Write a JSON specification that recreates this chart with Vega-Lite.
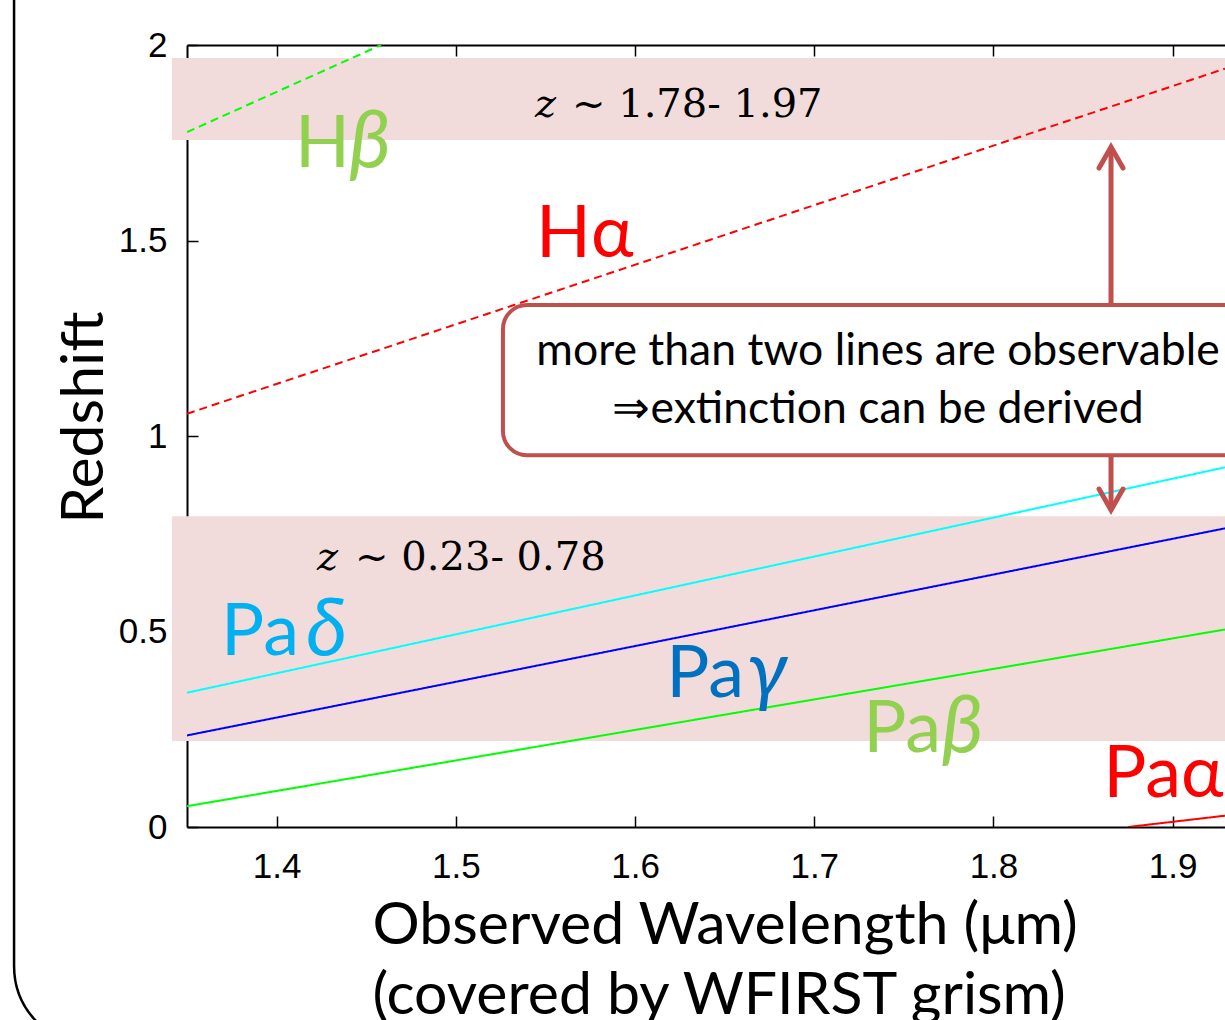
{
  "$schema": "https://vega.github.io/schema/vega-lite/v6.json",
  "width": 1038,
  "height": 782,
  "autosize": {"type": "none"},
  "padding": {"left": 187, "top": 45, "right": 0, "bottom": 193},
  "background": "white",
  "config": {
    "view": {"stroke": null},
    "axis": {
      "domainColor": "#000000",
      "domainWidth": 2,
      "tickColor": "#000000",
      "tickWidth": 1.5,
      "tickSize": -11,
      "labelFont": "Liberation Sans",
      "labelFontSize": 35,
      "labelColor": "#000000",
      "grid": false,
      "labelFlush": false,
      "labelOverlap": false,
      "zindex": 1
    }
  },
  "datasets": {
    "frame": [{"x1": 1.2535, "x2": 2.0, "y1": -0.56, "y2": 2.5}],
    "bands": [
      {"range": "high", "x1": 1.3416, "x2": 2.0, "z1": 1.757, "z2": 1.967},
      {"range": "low", "x1": 1.3416, "x2": 2.0, "z1": 0.22, "z2": 0.795}
    ],
    "lines": [
      {"name": "Hβ", "series": "Balmer", "wl": 1.35, "z": 1.7772},
      {"name": "Hβ", "series": "Balmer", "wl": 1.4583, "z": 2.0},
      {"name": "Hα", "series": "Balmer", "wl": 1.35, "z": 1.057},
      {"name": "Hα", "series": "Balmer", "wl": 1.9292, "z": 1.9395},
      {"name": "Paδ", "series": "Paschen", "wl": 1.35, "z": 0.3434},
      {"name": "Paδ", "series": "Paschen", "wl": 1.9292, "z": 0.9198},
      {"name": "Paγ", "series": "Paschen", "wl": 1.35, "z": 0.2342},
      {"name": "Paγ", "series": "Paschen", "wl": 1.9292, "z": 0.7638},
      {"name": "Paβ", "series": "Paschen", "wl": 1.35, "z": 0.0532},
      {"name": "Paβ", "series": "Paschen", "wl": 1.9292, "z": 0.5051},
      {"name": "Paα", "series": "Paschen", "wl": 1.8751, "z": 0.0},
      {"name": "Paα", "series": "Paschen", "wl": 1.9292, "z": 0.0289}
    ],
    "box": [{"x1": 1.5263, "x2": 2.0, "z1": 0.951, "z2": 1.335}],
    "arrows": [
      {"dir": "up", "wl": 1.8656, "z1": 1.335, "z2": 1.73, "tip": 1.7391},
      {"dir": "down", "wl": 1.8656, "z1": 0.951, "z2": 0.82, "tip": 0.8107}
    ],
    "labels": [
      {"name": "Hβ", "base": "H", "greek": "β", "wl": 1.4103, "gwl": 1.4405, "z": 1.688},
      {"name": "Hα", "base": "Hα", "greek": "", "wl": 1.5448, "gwl": 1.6, "z": 1.4578},
      {"name": "Paδ", "base": "Pa", "greek": "δ", "wl": 1.369, "gwl": 1.4165, "z": 0.4399},
      {"name": "Paγ", "base": "Pa", "greek": "γ", "wl": 1.6174, "gwl": 1.6625, "z": 0.3325},
      {"name": "Paβ", "base": "Pa", "greek": "β", "wl": 1.7273, "gwl": 1.7712, "z": 0.1918},
      {"name": "Paα", "base": "Paα", "greek": "", "wl": 1.8612, "gwl": 1.95, "z": 0.0767}
    ],
    "zranges": [
      {"range": "high", "zx": 1.5442, "rx": 1.5648, "z": 1.8159, "text": "~ 1.78- 1.97"},
      {"range": "low", "zx": 1.4225, "rx": 1.4438, "z": 0.6573, "text": "~ 0.23- 0.78"}
    ],
    "note": [{"wl": 1.7356, "z": 1.1816, "text": "more than two lines are observable\n⇒extinction can be derived"}]
  },
  "layer": [
    {
      "data": {"name": "frame"},
      "mark": {"type": "rect", "fill": "transparent", "stroke": "#000000", "strokeWidth": 2.5, "cornerRadius": 80, "clip": false},
      "encoding": {
        "x": {
          "field": "x1", "type": "quantitative",
          "scale": {"domain": [1.35, 1.9292], "nice": false, "zero": false},
          "axis": {"orient": "top", "labels": false, "title": null, "values": [1.4, 1.5, 1.6, 1.7, 1.8, 1.9]}
        },
        "x2": {"field": "x2"},
        "y": {
          "field": "y1", "type": "quantitative",
          "scale": {"domain": [0, 2], "nice": false, "zero": false},
          "axis": {
            "orient": "left",
            "values": [0, 0.5, 1, 1.5, 2],
            "format": "~g",
            "labelPadding": 31,
            "title": "Redshift",
            "titleX": -85,
            "titleY": 372,
            "titleAngle": -90,
            "titleAlign": "center",
            "titleBaseline": "alphabetic",
            "titleFont": "Lato",
            "titleFontSize": 59,
            "titleFontWeight": "normal",
            "titleColor": "#000000"
          }
        },
        "y2": {"field": "y2"}
      }
    },
    {
      "data": {"name": "bands"},
      "mark": {"type": "rect", "fill": "#f2dcdb", "clip": false},
      "encoding": {
        "x": {"field": "x1", "type": "quantitative", "axis": null},
        "x2": {"field": "x2"},
        "y": {"field": "z1", "type": "quantitative"},
        "y2": {"field": "z2"}
      }
    },
    {
      "data": {"name": "lines"},
      "mark": {"type": "line", "strokeWidth": 2, "clip": true},
      "encoding": {
        "x": {
          "field": "wl", "type": "quantitative",
          "axis": {
            "orient": "bottom",
            "values": [1.4, 1.5, 1.6, 1.7, 1.8, 1.9],
            "format": ".1f",
            "labelPadding": 33,
            "title": ["Observed Wavelength (μm)", "(covered by WFIRST grism)"],
            "titleX": 185,
            "titleY": 116,
            "titleAlign": "left",
            "titleBaseline": "alphabetic",
            "titleFont": "Lato",
            "titleFontSize": 59,
            "titleFontWeight": "normal",
            "titleLineHeight": 70,
            "titleColor": "#000000"
          }
        },
        "y": {"field": "z", "type": "quantitative"},
        "color": {
          "field": "name", "type": "nominal",
          "scale": {"domain": ["Hβ", "Hα", "Paδ", "Paγ", "Paβ", "Paα"], "range": ["#00ff00", "#ff0000", "#00ffff", "#0000ff", "#00ff00", "#ff0000"]},
          "legend": null
        },
        "strokeDash": {
          "field": "series", "type": "nominal",
          "scale": {"domain": ["Balmer", "Paschen"], "range": [[8, 5], [1, 0]]},
          "legend": null
        }
      }
    },
    {
      "data": {"name": "box"},
      "mark": {"type": "rect", "fill": "#ffffff", "stroke": "#c0504d", "strokeWidth": 4, "cornerRadius": 24, "clip": false},
      "encoding": {
        "x": {"field": "x1", "type": "quantitative", "axis": null},
        "x2": {"field": "x2"},
        "y": {"field": "z1", "type": "quantitative"},
        "y2": {"field": "z2"}
      }
    },
    {
      "data": {"name": "arrows"},
      "mark": {"type": "rule", "color": "#c0504d", "strokeWidth": 5, "clip": false},
      "encoding": {
        "x": {"field": "wl", "type": "quantitative", "axis": null},
        "y": {"field": "z1", "type": "quantitative"},
        "y2": {"field": "z2"}
      }
    },
    {
      "data": {"name": "arrows"},
      "mark": {"type": "point", "filled": false, "color": "#c0504d", "strokeWidth": 5, "size": 1764, "opacity": 1, "strokeCap": "round", "strokeJoin": "miter", "clip": false},
      "encoding": {
        "x": {"field": "wl", "type": "quantitative", "axis": null},
        "y": {"field": "tip", "type": "quantitative"},
        "shape": {
          "field": "dir", "type": "nominal",
          "scale": {"domain": ["up", "down"], "range": ["M-0.57,1L0,0L0.57,1", "M-0.57,-1L0,0L0.57,-1"]},
          "legend": null
        }
      }
    },
    {
      "data": {"name": "labels"},
      "mark": {"type": "text", "font": "Lato", "fontSize": 72, "align": "left", "baseline": "alphabetic", "clip": false},
      "encoding": {
        "x": {"field": "wl", "type": "quantitative", "axis": null},
        "y": {"field": "z", "type": "quantitative"},
        "text": {"field": "base", "type": "nominal"},
        "color": {
          "field": "name", "type": "nominal",
          "scale": {"domain": ["Hβ", "Hα", "Paδ", "Paγ", "Paβ", "Paα"], "range": ["#92d050", "#ff0000", "#00b0f0", "#0070c0", "#92d050", "#ff0000"]},
          "legend": null
        }
      }
    },
    {
      "data": {"name": "labels"},
      "mark": {"type": "text", "font": "Lato", "fontSize": 80, "fontStyle": "italic", "align": "left", "baseline": "alphabetic", "clip": false},
      "encoding": {
        "x": {"field": "gwl", "type": "quantitative", "axis": null},
        "y": {"field": "z", "type": "quantitative"},
        "text": {"field": "greek", "type": "nominal"},
        "color": {
          "field": "name", "type": "nominal",
          "scale": {"domain": ["Hβ", "Hα", "Paδ", "Paγ", "Paβ", "Paα"], "range": ["#92d050", "#ff0000", "#00b0f0", "#0070c0", "#92d050", "#ff0000"]},
          "legend": null
        }
      }
    },
    {
      "data": {"name": "zranges"},
      "mark": {"type": "text", "text": "z", "font": "DejaVu Serif", "fontSize": 40, "fontStyle": "italic", "align": "left", "baseline": "alphabetic", "color": "#000000", "clip": false},
      "encoding": {
        "x": {"field": "zx", "type": "quantitative", "axis": null},
        "y": {"field": "z", "type": "quantitative"}
      }
    },
    {
      "data": {"name": "zranges"},
      "mark": {"type": "text", "font": "DejaVu Serif", "fontSize": 40, "align": "left", "baseline": "alphabetic", "color": "#000000", "clip": false},
      "encoding": {
        "x": {"field": "rx", "type": "quantitative", "axis": null},
        "y": {"field": "z", "type": "quantitative"},
        "text": {"field": "text", "type": "nominal"}
      }
    },
    {
      "data": {"name": "note"},
      "mark": {"type": "text", "font": "Lato", "fontSize": 44.5, "align": "center", "baseline": "alphabetic", "lineBreak": "\n", "lineHeight": 58, "color": "#000000", "clip": false},
      "encoding": {
        "x": {"field": "wl", "type": "quantitative", "axis": null},
        "y": {"field": "z", "type": "quantitative"},
        "text": {"field": "text", "type": "nominal"}
      }
    }
  ],
  "resolve": {"scale": {"color": "independent"}, "axis": {"x": "independent"}}
}
